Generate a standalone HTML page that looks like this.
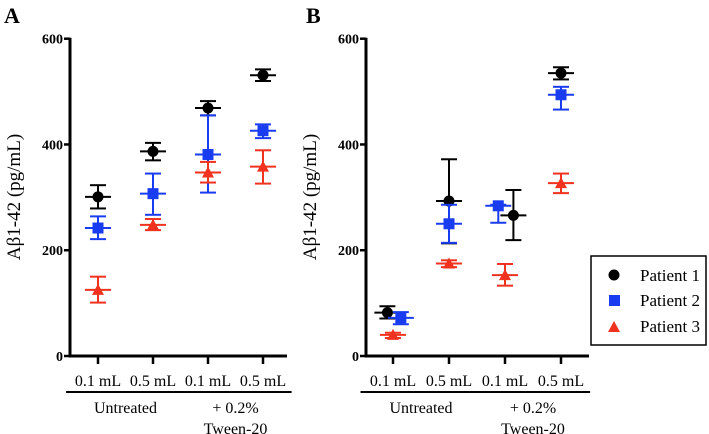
<!DOCTYPE html>
<html><head><meta charset="utf-8">
<style>
body{margin:0;background:#fff;}
svg, svg text{font-family:"Liberation Serif","DejaVu Serif",serif;}
svg{display:block;}
</style></head>
<body>
<svg id="chart" width="709" height="434" viewBox="0 0 709 434" font-family="Liberation Serif, DejaVu Serif, serif">
  <text x="4" y="23" font-size="22" font-weight="bold">A</text>
  <text x="306" y="23" font-size="22" font-weight="bold">B</text>
  <g id="legend">
    <rect x="591" y="256" width="115" height="89" fill="#fff" stroke="#000" stroke-width="1.5"/>
    <circle cx="614" cy="275" r="5.5" fill="#000"/>
    <text x="640" y="281" font-size="17">Patient 1</text>
    <rect x="609" y="295" width="11" height="11" fill="#1a3cf0"/>
    <text x="640" y="306" font-size="17">Patient 2</text>
    <polygon points="614,321 620,332 608,332" fill="#f0321e"/>
    <text x="640" y="332" font-size="17">Patient 3</text>
  </g>
</svg>
<script>
const categories = ["0.1 mL","0.5 mL","0.1 mL","0.5 mL"];
const groups = ["Untreated","+ 0.2%|Tween-20"];
const yTicks = [0,200,400,600];
const seriesNames = ["Patient 1","Patient 2","Patient 3"];
// Panel A: mean, upper, lower per category
const aP1 = [301,387,469,531], aP1Hi=[323,403,482,542], aP1Lo=[279,370,455,520];
const aP2 = [242,307,381,426], aP2Hi=[264,345,455,438], aP2Lo=[221,267,309,412];
const aP3 = [125,248,347,358], aP3Hi=[150,259,367,389], aP3Lo=[101,238,328,326];
// Panel B
const bP1 = [82,293,266,535], bP1Hi=[94,372,314,546], bP1Lo=[71,213,219,523];
const bP2 = [72,250,284,494], bP2Hi=[83,286,286,509], bP2Lo=[60,214,252,466];
const bP3 = [40,175,153,327], bP3Hi=[44,181,174,345], bP3Lo=[34,168,133,308];
// horizontal jitter in category units for panel B
const bJit1 = [-0.1,0,0.15,0], bJit2=[0.14,0,-0.12,0], bJit3=[0,0,0,0];

const NS="http://www.w3.org/2000/svg";
const svg=document.getElementById('chart');
const legend=document.getElementById('legend');
function mk(tag,attrs,parent){const e=document.createElementNS(NS,tag);for(const k in attrs)e.setAttribute(k,attrs[k]);if(parent)parent.appendChild(e);else svg.insertBefore(e,legend);return e;}
const colors=["#000","#1a3cf0","#f0321e"];
const yTop=38.7,yBot=356;
function yS(v){return yBot-(v/600)*(yBot-yTop);}

function panel(name,ax,axEnd,cx0,dx,data,jit){
  const xS=i=>cx0+i*dx;
  const g=mk('g',{});
  
  
  const ya=mk('line',{x1:ax,y1:yTop-1,x2:ax,y2:yBot+1.5,stroke:'#000','stroke-width':3},g);
  
  
  const xa=mk('line',{x1:ax-1.5,y1:yBot,x2:axEnd,y2:yBot,stroke:'#000','stroke-width':3},g);
  
  
  yTicks.forEach(t=>{
    const l=mk('line',{x1:ax-6,y1:yS(t),x2:ax,y2:yS(t),stroke:'#000','stroke-width':2.5},g);
    
    
    const tx=mk('text',{x:ax-7,y:yS(t)+5,'font-size':14,'font-weight':'bold','text-anchor':'end'},g);
    tx.textContent=t;
    
    
  });
  const yl=mk('text',{x:0,y:0,'font-size':19,'text-anchor':'middle',transform:`translate(${ax-50},197) rotate(-90)`},g);
  yl.textContent='Aβ1-42 (pg/mL)';
  
  
  categories.forEach((c,i)=>{
    const l=mk('line',{x1:xS(i),y1:yBot,x2:xS(i),y2:yBot+8,stroke:'#000','stroke-width':2.5},g);
    
    
    const t=mk('text',{x:xS(i),y:386,'font-size':16,'text-anchor':'middle'},g);
    t.textContent=c;
    
    
  });
  groups.forEach((gr,k)=>{
    const a=xS(2*k)-dx*0.58, b=xS(2*k+1)+dx*0.52;
    const l=mk('line',{x1:a,y1:392,x2:b,y2:392,stroke:'#000','stroke-width':2},g);
    
    
    gr.split('|').forEach((s,j)=>{
      const t=mk('text',{x:(xS(2*k)+xS(2*k+1))/2,y:413+j*21,'font-size':16,'text-anchor':'middle'},g);
      t.textContent=s;
      
      
    });
  });
  data.forEach((d,s)=>{
    const [m,hi,lo]=d;const col=colors[s];
    m.forEach((v,i)=>{
      const x=xS(i+jit[s][i]);
      const eg=mk('g',{stroke:col,'stroke-width':2,fill:'none'},g);
      
      
      mk('line',{x1:x,y1:yS(hi[i]),x2:x,y2:yS(lo[i])},eg);
      mk('line',{x1:x-8,y1:yS(hi[i]),x2:x+8,y2:yS(hi[i])},eg);
      mk('line',{x1:x-8,y1:yS(lo[i]),x2:x+8,y2:yS(lo[i])},eg);
      mk('line',{x1:x-13,y1:yS(v),x2:x+13,y2:yS(v)},eg);
      const y=yS(v);let p;
      if(s===0)p=mk('circle',{cx:x,cy:y,r:5.5,fill:col},g);
      else if(s===1)p=mk('rect',{x:x-5.5,y:y-5.5,width:11,height:11,fill:col},g);
      else p=mk('polygon',{points:`${x},${y-6} ${x+6},${y+5} ${x-6},${y+5}`,fill:col},g);
      
      
    });
  });
}
const z=[0,0,0,0];
panel('panel-a',70,287,98,55,[[aP1,aP1Hi,aP1Lo],[aP2,aP2Hi,aP2Lo],[aP3,aP3Hi,aP3Lo]],[z,z,z]);
panel('panel-b',366,589,393,56,[[bP1,bP1Hi,bP1Lo],[bP2,bP2Hi,bP2Lo],[bP3,bP3Hi,bP3Lo]],[bJit1,bJit2,bJit3]);
</script>
</body></html>
